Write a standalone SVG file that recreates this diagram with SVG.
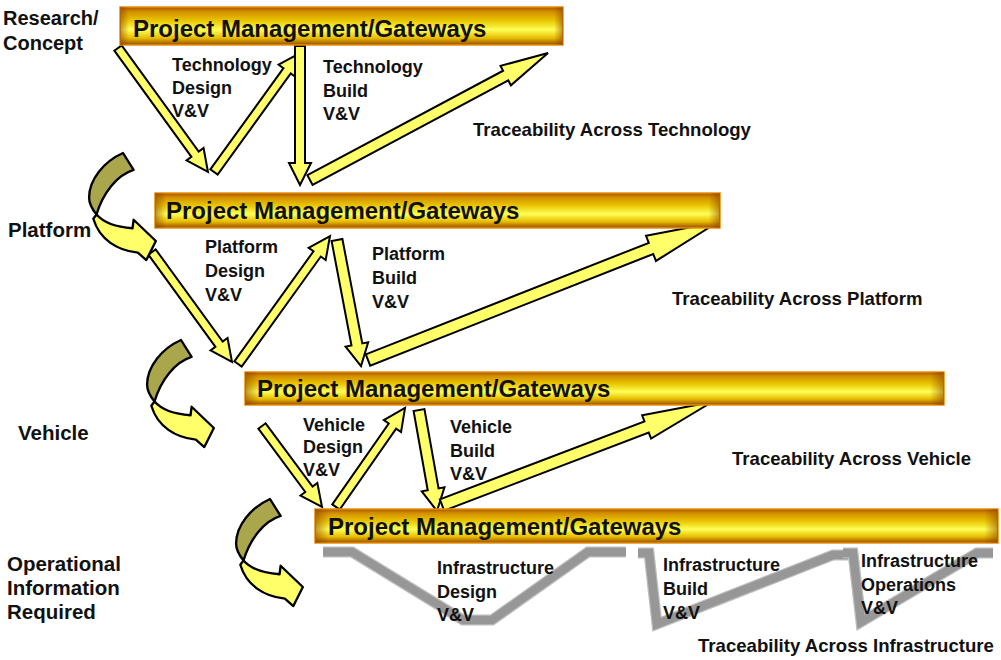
<svg xmlns="http://www.w3.org/2000/svg" width="1001" height="660" viewBox="0 0 1001 660">
  <defs>
    <linearGradient id="barFill" x1="0" y1="0" x2="0" y2="1">
      <stop offset="0" stop-color="#a85400"/>
      <stop offset="0.12" stop-color="#d28e00"/>
      <stop offset="0.35" stop-color="#e9c400"/>
      <stop offset="0.6" stop-color="#ffff55"/>
      <stop offset="0.82" stop-color="#e6bb00"/>
      <stop offset="1" stop-color="#9a4a00"/>
    </linearGradient>
    <linearGradient id="barEnds" x1="0" y1="0" x2="1" y2="0">
      <stop offset="0" stop-color="#8a3c00" stop-opacity="0.55"/>
      <stop offset="0.02" stop-color="#8a3c00" stop-opacity="0"/>
      <stop offset="0.98" stop-color="#8a3c00" stop-opacity="0"/>
      <stop offset="1" stop-color="#8a3c00" stop-opacity="0.55"/>
    </linearGradient>
    <style>
      text { font-family: "Liberation Sans", Arial, sans-serif; font-weight: bold; fill: #111; }
      .title { font-size: 24px; }
      .stage { font-size: 20.5px; }
      .lbl { font-size: 18px; }
      .trace { font-size: 18.6px; }
      .bar { fill: url(#barFill); stroke: #e8900a; stroke-width: 1.5; }
      .barEnds { fill: url(#barEnds); }
      .arrow { fill: #ffff6a; stroke: #000; stroke-width: 2; stroke-linejoin: miter; }
      .back { fill: #a9a64c; stroke: #000; stroke-width: 2.2; stroke-linejoin: round; }
      .front { fill: #ffff6a; stroke: #000; stroke-width: 2.2; stroke-linejoin: round; }
      .vEdge { fill: none; stroke: #bdbdbd; stroke-width: 11; stroke-linejoin: miter; }
      .vBand { fill: none; stroke: #979797; stroke-width: 8.5; stroke-linejoin: miter; }
    </style>
    <!-- curled hand-off arrow between levels; origin at its tail -->
    <g id="curl">
      <path class="back" d="M0,0 L10,16 C-6,21 -19,38 -25,58 C-30,52 -32,47 -32,42 C-32,25 -18,8 0,0 Z"/>
      <path class="front" d="M-25,58 C-18,66 -5,70 9,71 L10,63 L31,83 L22,101 L14,94 C-5,92 -22,82 -28,62 Z"/>
    </g>
  </defs>

  <rect width="1001" height="660" fill="#fff"/>

  <!-- level names -->
  <g id="stage-labels">
    <text class="stage" x="3" y="25" style="font-size:20px">Research/</text>
    <text class="stage" x="3" y="50" style="font-size:20px">Concept</text>
    <text class="stage" x="8" y="237">Platform</text>
    <text class="stage" x="18" y="440">Vehicle</text>
    <text class="stage" x="7" y="571">Operational</text>
    <text class="stage" x="7" y="595">Information</text>
    <text class="stage" x="7" y="619">Required</text>
  </g>

  <!-- connectors -->
  <g id="connectors">
    <!-- technology level -->
    <path class="arrow" transform="translate(118,48) rotate(54.03)" d="M0,-4.5 H131.2 V-10.5 L153.2,0 L131.2,10.5 V4.5 H0 Z"/>
    <path class="arrow" transform="translate(214,172) rotate(-54.15)" d="M0,-4.5 H124.8 V-10.5 L146.8,0 L124.8,10.5 V4.5 H0 Z"/>
    <path class="arrow" transform="translate(300,46) rotate(90)" d="M0,-5 H117 V-11 L139,0 L117,11 V5 H0 Z"/>
    <path class="arrow" transform="translate(310,180) rotate(-28.08)" d="M0,-5.5 H221.8 V-11 L269.8,0 L221.8,11 V5.5 H0 Z"/>
    <!-- platform level -->
    <path class="arrow" transform="translate(152,252) rotate(53.97)" d="M0,-4.5 H114 V-10.5 L136,0 L114,10.5 V4.5 H0 Z"/>
    <path class="arrow" transform="translate(238,364) rotate(-54.29)" d="M0,-4.5 H135.6 V-10.5 L157.6,0 L135.6,10.5 V4.5 H0 Z"/>
    <path class="arrow" transform="translate(337,240) rotate(79.22)" d="M0,-5.5 H106.3 V-11.5 L128.3,0 L106.3,11.5 V5.5 H0 Z"/>
    <path class="arrow" transform="translate(368,360) rotate(-21.52)" d="M0,-6 H304.2 V-13.5 L376.2,0 L304.2,13.5 V6 H0 Z"/>
    <!-- vehicle level -->
    <path class="arrow" transform="translate(262,426) rotate(53.47)" d="M0,-4.5 H78.8 V-10.5 L100.8,0 L78.8,10.5 V4.5 H0 Z"/>
    <path class="arrow" transform="translate(336,507) rotate(-55.12)" d="M0,-4.5 H98.7 V-10.5 L120.7,0 L98.7,10.5 V4.5 H0 Z"/>
    <path class="arrow" transform="translate(419,410) rotate(79.9)" d="M0,-5.5 H80.6 V-11.5 L102.6,0 L80.6,11.5 V5.5 H0 Z"/>
    <path class="arrow" transform="translate(442,505) rotate(-20.88)" d="M0,-6 H219 V-12.5 L289,0 L219,12.5 V6 H0 Z"/>
    <!-- hand-offs between levels -->
    <use href="#curl" transform="translate(123,153) scale(1.06)"/>
    <use href="#curl" transform="translate(181,340) scale(1.06)"/>
    <use href="#curl" transform="translate(270,499) scale(1.06)"/>
    <!-- infrastructure V-paths -->
    <polyline class="vEdge" points="323,552 352,552 463,620 492,620 588,552 626,552"/>
    <polyline class="vBand" points="323,552 352,552 463,620 492,620 588,552 626,552"/>
    <polyline class="vEdge" points="638,553 649,553 657,624 833,555 848,555"/>
    <polyline class="vBand" points="638,553 649,553 657,624 833,555 848,555"/>
    <polyline class="vEdge" points="843,553 853,553 861,622 977,553 993,553"/>
    <polyline class="vBand" points="843,553 853,553 861,622 977,553 993,553"/>
  </g>

  <!-- gateway bars -->
  <g id="gateway-technology">
    <rect class="bar" x="120" y="7" width="443" height="38"/>
    <rect class="barEnds" x="120" y="7" width="443" height="38"/>
    <text class="title" x="133" y="37">Project Management/Gateways</text>
  </g>
  <g id="gateway-platform">
    <rect class="bar" x="155" y="193" width="565" height="35"/>
    <rect class="barEnds" x="155" y="193" width="565" height="35"/>
    <text class="title" x="166" y="219">Project Management/Gateways</text>
  </g>
  <g id="gateway-vehicle">
    <rect class="bar" x="245" y="372" width="699" height="33"/>
    <rect class="barEnds" x="245" y="372" width="699" height="33"/>
    <text class="title" x="257" y="397">Project Management/Gateways</text>
  </g>
  <g id="gateway-infrastructure">
    <rect class="bar" x="315" y="509" width="683" height="34"/>
    <rect class="barEnds" x="315" y="509" width="683" height="34"/>
    <text class="title" x="328" y="535">Project Management/Gateways</text>
  </g>

  <!-- V&V labels -->
  <g id="technology-design">
    <text class="lbl" x="172" y="71">Technology</text>
    <text class="lbl" x="172" y="94">Design</text>
    <text class="lbl" x="172" y="117">V&amp;V</text>
  </g>
  <g id="technology-build">
    <text class="lbl" x="323" y="73">Technology</text>
    <text class="lbl" x="323" y="97">Build</text>
    <text class="lbl" x="323" y="120">V&amp;V</text>
  </g>
  <g id="trace-technology">
    <text class="trace" x="473" y="136">Traceability Across Technology</text>
  </g>
  <g id="platform-design">
    <text class="lbl" x="205" y="253">Platform</text>
    <text class="lbl" x="205" y="277">Design</text>
    <text class="lbl" x="205" y="301">V&amp;V</text>
  </g>
  <g id="platform-build">
    <text class="lbl" x="372" y="260">Platform</text>
    <text class="lbl" x="372" y="284">Build</text>
    <text class="lbl" x="372" y="308">V&amp;V</text>
  </g>
  <g id="trace-platform">
    <text class="trace" x="672" y="305">Traceability Across Platform</text>
  </g>
  <g id="vehicle-design">
    <text class="lbl" x="303" y="431">Vehicle</text>
    <text class="lbl" x="303" y="453">Design</text>
    <text class="lbl" x="303" y="476">V&amp;V</text>
  </g>
  <g id="vehicle-build">
    <text class="lbl" x="450" y="433">Vehicle</text>
    <text class="lbl" x="450" y="457">Build</text>
    <text class="lbl" x="450" y="480">V&amp;V</text>
  </g>
  <g id="trace-vehicle">
    <text class="trace" x="732" y="465">Traceability Across Vehicle</text>
  </g>
  <g id="infrastructure-design">
    <text class="lbl" x="437" y="574">Infrastructure</text>
    <text class="lbl" x="437" y="598">Design</text>
    <text class="lbl" x="437" y="621">V&amp;V</text>
  </g>
  <g id="infrastructure-build">
    <text class="lbl" x="663" y="571">Infrastructure</text>
    <text class="lbl" x="663" y="595">Build</text>
    <text class="lbl" x="663" y="619">V&amp;V</text>
  </g>
  <g id="infrastructure-operations">
    <text class="lbl" x="861" y="567">Infrastructure</text>
    <text class="lbl" x="861" y="591">Operations</text>
    <text class="lbl" x="861" y="614">V&amp;V</text>
  </g>
  <g id="trace-infrastructure">
    <text class="trace" x="698" y="652">Traceability Across Infrastructure</text>
  </g>
</svg>
